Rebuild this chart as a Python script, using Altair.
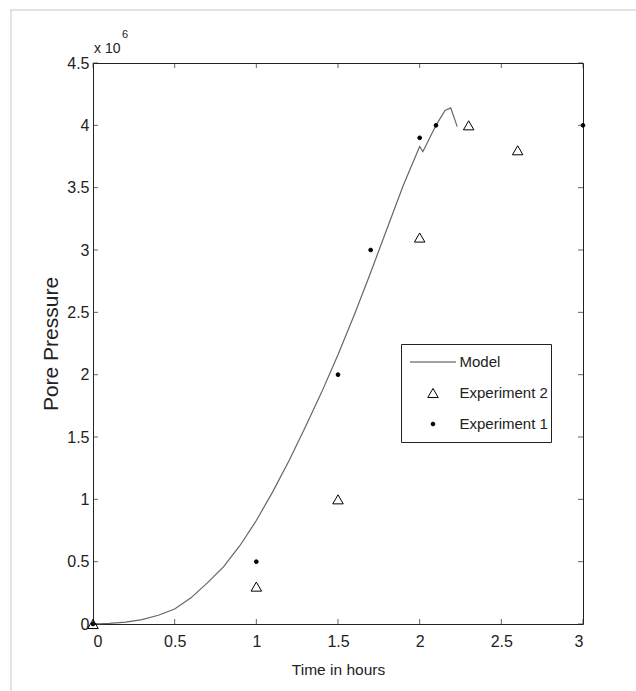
import altair as alt
import pandas as pd

# ---- data (pore pressure in units of 1e6) ----
model_x = [0, 0.1, 0.2, 0.3, 0.4, 0.5, 0.6, 0.7, 0.8, 0.9, 1.0, 1.1, 1.2, 1.3,
           1.4, 1.5, 1.6, 1.7, 1.8, 1.9, 2.0, 2.02, 2.1, 2.155, 2.19, 2.23]
model_y = [0, 0.005, 0.015, 0.035, 0.07, 0.12, 0.21, 0.33, 0.46, 0.63, 0.83,
           1.06, 1.31, 1.58, 1.86, 2.16, 2.48, 2.82, 3.17, 3.52, 3.83, 3.79,
           4.0, 4.12, 4.14, 3.99]

exp2_x = [0, 1.0, 1.5, 2.0, 2.3, 2.6]
exp2_y = [0, 0.3, 1.0, 3.1, 4.0, 3.8]

exp1_x = [0, 1.0, 1.5, 1.7, 2.0, 2.1, 3.0]
exp1_y = [0, 0.5, 2.0, 3.0, 3.9, 4.0, 4.0]

series_names = ["Model", "Experiment 2", "Experiment 1"]
x_ticks = [0, 0.5, 1, 1.5, 2, 2.5, 3]
y_ticks = [0, 0.5, 1, 1.5, 2, 2.5, 3, 3.5, 4, 4.5]

W, H = 490, 561
NARROW = "Liberation Sans Narrow, Arial Narrow, Liberation Sans, sans-serif"
REG = "Liberation Sans, Arial, sans-serif"
INK = "#222222"

model_df = pd.DataFrame({"x": model_x, "y": model_y})
pts_df = pd.concat([
    pd.DataFrame({"x": exp2_x, "y": exp2_y, "series": "Experiment 2"}),
    pd.DataFrame({"x": exp1_x, "y": exp1_y, "series": "Experiment 1"}),
], ignore_index=True)
xt_df = pd.DataFrame({"v": x_ticks})
yt_df = pd.DataFrame({"v": y_ticks})

xs = alt.Scale(domain=[0, 3], nice=False, zero=False)
ys = alt.Scale(domain=[0, 4.5], nice=False, zero=False)

x_axis = alt.Axis(values=x_ticks, format="~g", ticks=False, domain=False, grid=False,
                  labelPadding=9, labelFont=NARROW, labelFontSize=16, labelColor=INK,
                  title="Time in hours", titleFont=NARROW, titleFontSize=15.5,
                  titleFontWeight="normal", titleColor=INK, titlePadding=13)
y_axis = alt.Axis(values=y_ticks, format="~g", ticks=False, domain=False, grid=False,
                  labelPadding=4, labelFont=NARROW, labelFontSize=16, labelColor=INK,
                  title="Pore Pressure", titleFont=REG, titleFontSize=21,
                  titleFontWeight="normal", titleColor=INK, titlePadding=5)

model = alt.Chart(model_df).mark_line(color="#666666", strokeWidth=1.2).encode(
    x=alt.X("x:Q", scale=xs, axis=x_axis),
    y=alt.Y("y:Q", scale=ys, axis=y_axis),
)

legend = alt.Legend(title=None, orient="none", legendX=308, legendY=281,
                    direction="vertical", columns=1,
                    fillColor="white", strokeColor=INK, padding=2.5, cornerRadius=0,
                    clipHeight=31, rowPadding=0, symbolOffset=6, labelOffset=3,
                    labelFont=NARROW, labelFontSize=15, labelColor=INK,
                    symbolStrokeWidth=1)

points = alt.Chart(pts_df).mark_point(strokeWidth=1, opacity=1).encode(
    x=alt.X("x:Q", scale=xs),
    y=alt.Y("y:Q", scale=ys),
    shape=alt.Shape("series:N", legend=legend,
                    scale=alt.Scale(domain=series_names,
                                    range=["M-1,0L1,0", "triangle-up", "circle"])),
    fill=alt.Fill("series:N", legend=legend,
                  scale=alt.Scale(domain=series_names,
                                  range=["transparent", "transparent", "black"])),
    stroke=alt.Stroke("series:N", legend=legend,
                      scale=alt.Scale(domain=series_names,
                                      range=["#444444", "black", "black"])),
    size=alt.Size("series:N", legend=legend,
                  scale=alt.Scale(type="ordinal", domain=series_names,
                                  range=[2116, 110, 14])),
)

tick_style = dict(color=INK, thickness=1, size=5)
bottom_ticks = alt.Chart(xt_df).mark_tick(orient="vertical", yOffset=-2.5, **tick_style).encode(
    x=alt.X("v:Q", scale=xs), y=alt.value(H))
top_ticks = alt.Chart(xt_df).mark_tick(orient="vertical", yOffset=2.5, **tick_style).encode(
    x=alt.X("v:Q", scale=xs), y=alt.value(0))
left_ticks = alt.Chart(yt_df).mark_tick(orient="horizontal", xOffset=2.5, **tick_style).encode(
    y=alt.Y("v:Q", scale=ys), x=alt.value(0))
right_ticks = alt.Chart(yt_df).mark_tick(orient="horizontal", xOffset=-2.5, **tick_style).encode(
    y=alt.Y("v:Q", scale=ys), x=alt.value(W))

exp_base = alt.Chart(pd.DataFrame({"t": ["x 10"]})).mark_text(
    align="left", baseline="alphabetic", font=NARROW, fontSize=14, color=INK
).encode(x=alt.value(1), y=alt.value(-10), text="t:N")
exp_sup = alt.Chart(pd.DataFrame({"t": ["6"]})).mark_text(
    align="left", baseline="alphabetic", font=NARROW, fontSize=11, color=INK
).encode(x=alt.value(29), y=alt.value(-25), text="t:N")

frame_top = alt.Chart(pd.DataFrame({"a": [0]})).mark_rule(color="#c8c8c8", strokeWidth=1).encode(
    x=alt.value(-83), x2=alt.value(636 - 93), y=alt.value(-53))
frame_left = alt.Chart(pd.DataFrame({"a": [0]})).mark_rule(color="#c8c8c8", strokeWidth=1).encode(
    x=alt.value(-82), y=alt.value(-53), y2=alt.value(691 - 63))

chart = alt.layer(
    frame_top, frame_left, model, points,
    bottom_ticks, top_ticks, left_ticks, right_ticks,
    exp_base, exp_sup,
).resolve_scale(
    shape="shared", fill="shared", stroke="shared", size="shared"
).properties(
    width=W, height=H,
    autosize=alt.AutoSizeParams(type="none"),
    padding={"left": 93, "top": 63, "right": 636 - 93 - W, "bottom": 691 - 63 - H},
    background="white",
).configure_view(stroke=INK, strokeWidth=1)

chart.save("out.html", embed_options={"renderer": "svg", "actions": False})
